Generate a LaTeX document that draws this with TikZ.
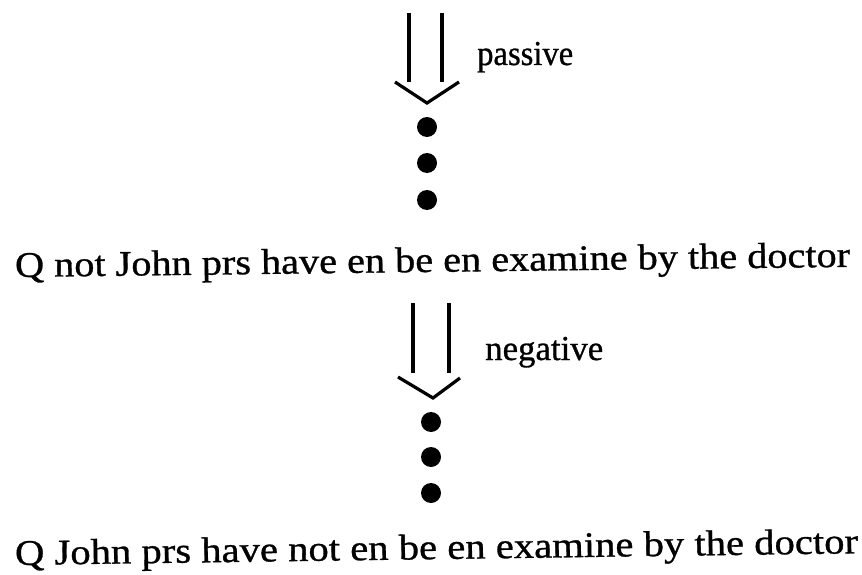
\documentclass[tikz,border=0pt]{standalone}
\usepackage{fontspec}
\setmainfont{Liberation Serif}
\newfontfamily\scanfont[FakeBold=0.8]{Liberation Serif}
\usepackage{graphicx}
\tikzset{
  sent/.style={inner sep=0pt, anchor=base west, font=\scanfont\fontsize{36}{40}\selectfont},
  lab/.style={inner sep=0pt, anchor=base west, font=\scanfont\fontsize{35}{40}\selectfont},
  dotnode/.style={circle, fill=black, inner sep=0pt, minimum size=20pt},
  shaft/.style={line width=3.2pt},
  head/.style={line width=3.2pt, line join=miter}
}
\begin{document}
\begin{tikzpicture}[x=1pt,y=-1pt]
\useasboundingbox (0,0) rectangle (862,575);
% first arrow
\coordinate (a1lt) at (409,13); \coordinate (a1lb) at (409,82);
\coordinate (a1rt) at (442,13); \coordinate (a1rb) at (442,82);
\coordinate (a1hl) at (395,82); \coordinate (a1tip) at (427,103); \coordinate (a1hr) at (459,82);
\draw[shaft] (a1lt) -- (a1lb);
\draw[shaft] (a1rt) -- (a1rb);
\draw[head] (a1hl) -- (a1tip) -- (a1hr);
\node[lab] (passive) at (477,65) {\resizebox{96pt}{\height}{passive}};
\node[dotnode] (d1) at (427,127) {};
\node[dotnode] (d2) at (427,163) {};
\node[dotnode] (d3) at (427,200) {};
\node[sent, rotate=0.7] (s1) at (15,277) {\resizebox{835pt}{\height}{Q not John prs have en be en examine by the doctor}};
% second arrow
\coordinate (a2lt) at (413,303); \coordinate (a2lb) at (413,373);
\coordinate (a2rt) at (449,303); \coordinate (a2rb) at (449,373);
\coordinate (a2hl) at (398,377); \coordinate (a2tip) at (433,398); \coordinate (a2hr) at (460,378);
\draw[shaft] (a2lt) -- (a2lb);
\draw[shaft] (a2rt) -- (a2rb);
\draw[head] (a2hl) -- (a2tip) -- (a2hr);
\node[lab] (negative) at (485,360) {\resizebox{118pt}{\height}{negative}};
\node[dotnode] (e1) at (431,422) {};
\node[dotnode] (e2) at (431,457) {};
\node[dotnode] (e3) at (431,493) {};
\node[sent, rotate=0.8] (s2) at (15,565) {\resizebox{843pt}{\height}{Q John prs have not en be en examine by the doctor}};
\end{tikzpicture}
\end{document}
